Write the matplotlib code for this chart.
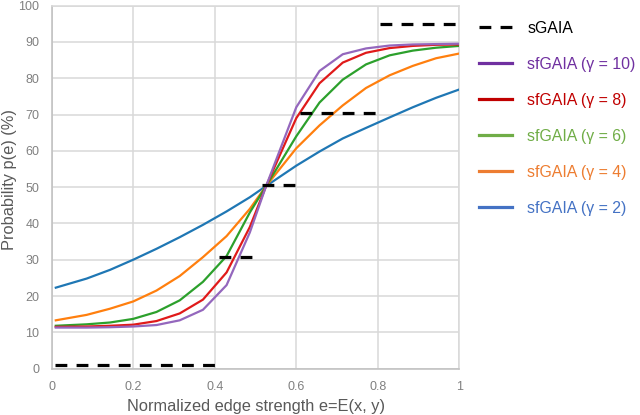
import numpy as np
import matplotlib
matplotlib.use("Agg")
import matplotlib.pyplot as plt
from matplotlib.lines import Line2D

# ---- data ----
x_vals = [0.01, 0.0857, 0.143, 0.2, 0.257, 0.314, 0.371, 0.429, 0.486, 0.526,
          0.6, 0.657, 0.714, 0.771, 0.829, 0.886, 0.943, 1.0]
gamma2 = [22.3, 24.8, 27.2, 30.0, 33.0, 36.2, 39.6, 43.3, 47.2, 50.3,
          55.9, 59.8, 63.4, 66.3, 69.2, 72.0, 74.6, 76.9]
gamma4 = [13.3, 14.8, 16.5, 18.5, 21.5, 25.5, 30.7, 36.5, 44.0, 50.3,
          60.7, 67.0, 72.5, 77.3, 80.8, 83.4, 85.5, 86.8]
gamma6 = [11.8, 12.2, 12.7, 13.7, 15.6, 18.8, 23.9, 31.0, 43.0, 50.3,
          64.0, 73.3, 79.6, 83.8, 86.3, 87.6, 88.4, 88.9]
gamma8 = [11.5, 11.6, 11.8, 12.1, 13.1, 15.2, 19.0, 26.5, 39.0, 50.3,
          69.0, 78.6, 84.3, 87.0, 88.3, 88.9, 89.2, 89.3]
gamma10 = [11.3, 11.3, 11.4, 11.6, 12.0, 13.3, 16.2, 23.0, 37.5, 50.3,
           72.0, 82.0, 86.6, 88.2, 89.0, 89.3, 89.4, 89.5]

sgaia_start = [0.008, 0.411, 0.515, 0.609, 0.806]
sgaia_end = [0.402, 0.493, 0.597, 0.797, 1.0]
sgaia_level = [1.0, 30.8, 50.5, 70.4, 94.8]

x_ticks = [0, 0.2, 0.4, 0.6, 0.8, 1.0]
x_tick_labels = ["0", "0.2", "0.4", "0.6", "0.8", "1"]
y_ticks = list(range(0, 101, 10))

labels = ["sGAIA", "sfGAIA (\u03b3 = 10)", "sfGAIA (\u03b3 = 8)", "sfGAIA (\u03b3 = 6)",
          "sfGAIA (\u03b3 = 4)", "sfGAIA (\u03b3 = 2)"]

# ---- styles ----
curve_colors = {"10": "#9467bd", "8": "#e01a1a", "6": "#2ca02c", "4": "#ff7f0e", "2": "#1f77b4"}
legend_colors = ["#000000", "#7030a0", "#c00000", "#70ad47", "#ed7d31", "#4472c4"]

plt.rcParams["font.family"] = ["Liberation Sans", "DejaVu Sans"]

fig = plt.figure(figsize=(6.4, 4.15), dpi=100)
ax = fig.add_axes([0.0808, 0.1118, 0.7177 - 0.0808, 0.9865 - 0.1118])

# sGAIA step segments joined with NaN breaks
sx, sy = [], []
for a, b, lv in zip(sgaia_start, sgaia_end, sgaia_level):
    sx += [a, b, np.nan]
    sy += [lv, lv, np.nan]
ax.plot(sx, sy, color="black", lw=2.3, dashes=(3.7, 2.9), solid_capstyle="butt",
        dash_capstyle="butt", zorder=5)

for key, ys in [("2", gamma2), ("4", gamma4), ("6", gamma6), ("8", gamma8), ("10", gamma10)]:
    ax.plot(x_vals, ys, color=curve_colors[key], lw=1.6, zorder=4)

ax.set_xlim(0, 1)
ax.set_ylim(0, 100)
ax.set_xticks(x_ticks)
ax.set_xticklabels(x_tick_labels)
ax.set_yticks(y_ticks)
ax.grid(True, color="#d9d9d9", lw=1.1)
ax.set_axisbelow(True)
for s in ["top", "right"]:
    ax.spines[s].set_color("#d9d9d9")
    ax.spines[s].set_linewidth(1.1)
for s in ["left", "bottom"]:
    ax.spines[s].set_color("#bfbfbf")
    ax.spines[s].set_linewidth(1.1)
ax.tick_params(length=0, labelsize=9, labelcolor="#808080")
ax.tick_params(axis="x", pad=9)
ax.tick_params(axis="y", pad=9)

ax.set_xlabel("Normalized edge strength e=E(x, y)", fontsize=11.8, color="#595959", labelpad=4)
ax.set_ylabel("Probability p(e) (%)", fontsize=11.8, color="#595959")
ax.yaxis.set_label_coords(-0.086, 0.52)

# legend with proxy handles
handles = [Line2D([], [], color="black", lw=2.3, dashes=(3.7, 2.9))]
for c in legend_colors[1:]:
    handles.append(Line2D([], [], color=c, lw=2.3))
leg = fig.legend(handles, labels, loc="upper left", bbox_to_anchor=(0.731, 0.977),
                 frameon=False, fontsize=11.4, handlelength=2.1, handletextpad=0.95,
                 labelspacing=1.33, borderpad=0.2)
for t, c in zip(leg.get_texts(), legend_colors):
    t.set_color(c)

fig.savefig("out.png", dpi=100)
